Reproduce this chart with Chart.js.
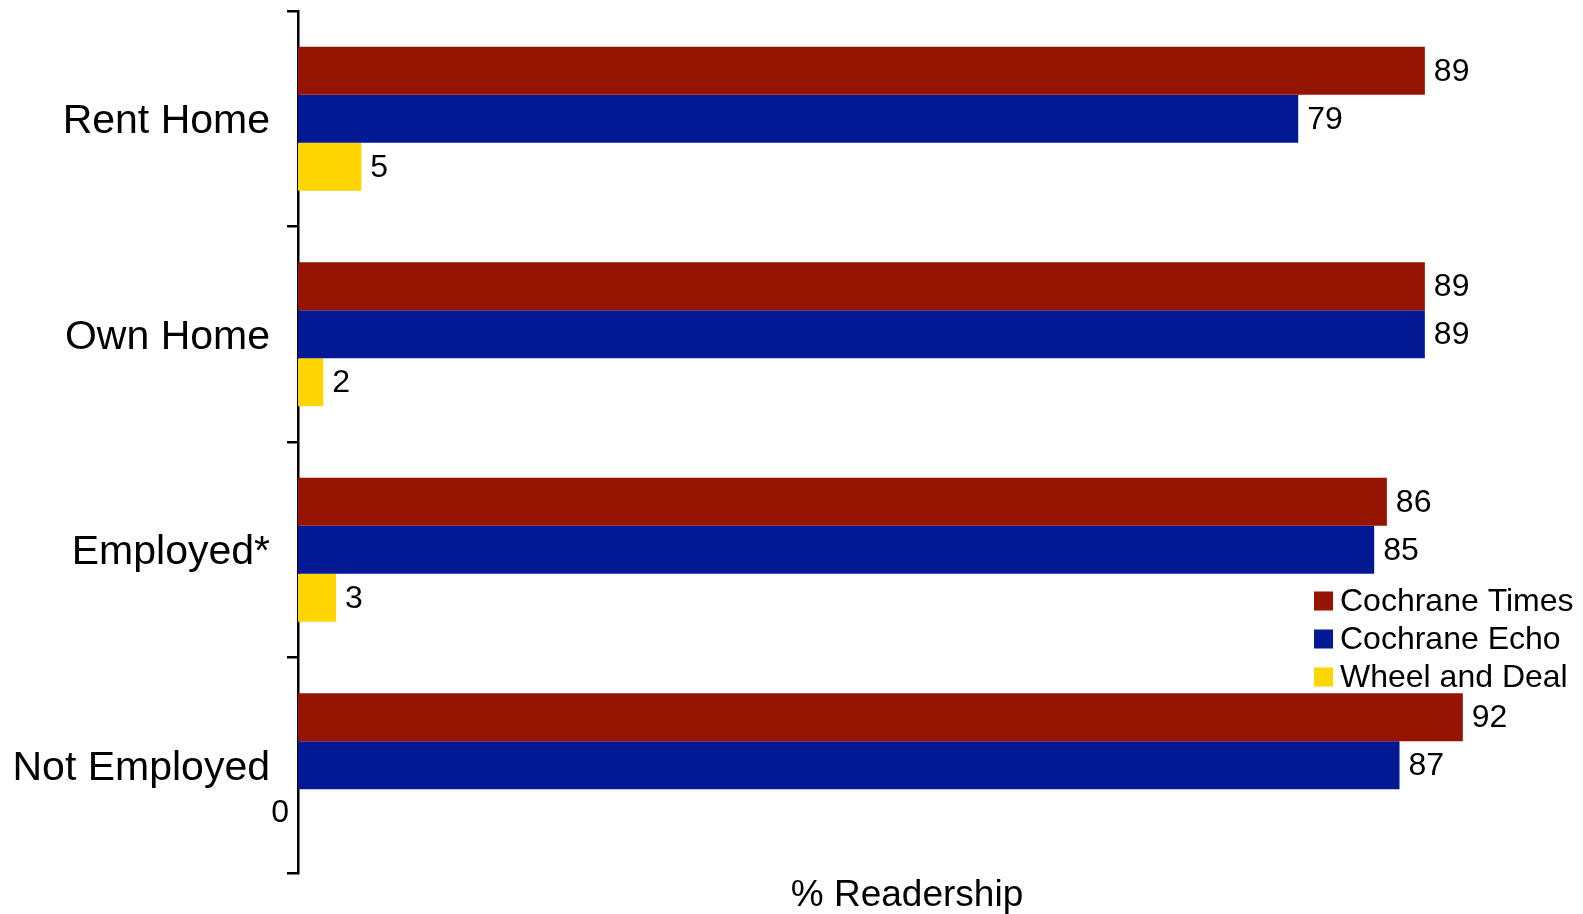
<!DOCTYPE html>
<html>
<head>
<meta charset="utf-8">
<script src="https://cdn.jsdelivr.net/npm/chart.js@4.4.1/dist/chart.umd.min.js"></script>
<style>
  html, body { margin: 0; padding: 0; background: #fff; }
  #wrap { width: 1583px; height: 914px; position: relative; }
</style>
</head>
<body>
<div id="wrap"><canvas id="chart"></canvas></div>
<script>
const categories = ["Rent Home", "Own Home", "Employed*", "Not Employed"];
const seriesNames = ["Cochrane Times", "Cochrane Echo", "Wheel and Deal"];
const timesValues = [89, 89, 86, 92];
const echoValues = [79, 89, 85, 87];
const wheelValues = [5, 2, 3, 0];
const seriesColors = ["#941400", "#031994", "#FFD500"];
const axisTitle = "% Readership";

const FONT = "'Liberation Sans', Arial, sans-serif";

// value labels next to each bar (zero drawn left of the axis)
const valueLabels = {
  id: "valueLabels",
  afterDatasetsDraw(chart) {
    const ctx = chart.ctx;
    ctx.save();
    ctx.font = "32px " + FONT;
    ctx.fillStyle = "#000";
    ctx.textBaseline = "middle";
    chart.data.datasets.forEach((ds, i) => {
      const meta = chart.getDatasetMeta(i);
      meta.data.forEach((bar, j) => {
        const v = ds.data[j];
        if (v === null || v === undefined) return;
        if (v === 0) {
          ctx.textAlign = "right";
          ctx.fillText(String(v), chart.chartArea.left - 9, bar.y);
        } else {
          ctx.textAlign = "left";
          ctx.fillText(String(v), bar.x + 9, bar.y + 1);
        }
      });
    });
    ctx.restore();
  }
};

// legend inside the plot, lower right
const floatLegend = {
  id: "floatLegend",
  afterDraw(chart) {
    const ctx = chart.ctx;
    ctx.save();
    ctx.font = "32px " + FONT;
    ctx.textBaseline = "middle";
    ctx.textAlign = "left";
    const x0 = 1314, y0 = 601, step = 38, box = 19;
    chart.data.datasets.forEach((ds, i) => {
      const y = y0 + i * step;
      ctx.fillStyle = ds.backgroundColor;
      ctx.fillRect(x0, y - box / 2, box, box);
      ctx.fillStyle = "#000";
      ctx.fillText(ds.label, x0 + 26, y + 1);
    });
    ctx.restore();
  }
};

new Chart(document.getElementById("chart"), {
  type: "bar",
  data: {
    labels: categories,
    datasets: [
      { label: seriesNames[0], data: timesValues, backgroundColor: seriesColors[0] },
      { label: seriesNames[1], data: echoValues, backgroundColor: seriesColors[1] },
      { label: seriesNames[2], data: wheelValues, backgroundColor: seriesColors[2] }
    ]
  },
  options: {
    indexAxis: "y",
    responsive: true,
    maintainAspectRatio: false,
    animation: false,
    devicePixelRatio: 1,
    layout: { padding: { top: 11, right: 67, left: 0, bottom: 0 } },
    datasets: { bar: { categoryPercentage: 0.668, barPercentage: 1.0, borderWidth: 0 } },
    plugins: {
      legend: { display: false },
      tooltip: { enabled: false }
    },
    scales: {
      x: {
        min: 0,
        max: 96.2,
        grid: { display: false },
        border: { display: false },
        ticks: { display: false },
        title: {
          display: true,
          text: axisTitle,
          color: "#000",
          font: { family: FONT, size: 37, lineHeight: 1 },
          padding: { top: 0, bottom: 0 }
        },
        afterFit(scale) {
          scale.height = 41;
          scale.paddingLeft = 0;
          scale.paddingRight = 0;
        }
      },
      y: {
        z: 1,
        border: { display: true, color: "#000", width: 2.5 },
        grid: {
          display: true,
          offset: true,
          drawOnChartArea: false,
          drawTicks: true,
          tickLength: 11,
          color: "#000",
          lineWidth: 2.5
        },
        ticks: {
          color: "#000",
          padding: 17,
          labelOffset: 3,
          font: { family: FONT, size: 41 }
        },
        afterFit(scale) {
          scale.width = 298;
          scale.paddingTop = 0;
          scale.paddingBottom = 0;
        }
      }
    }
  },
  plugins: [valueLabels, floatLegend]
});
</script>
</body>
</html>
